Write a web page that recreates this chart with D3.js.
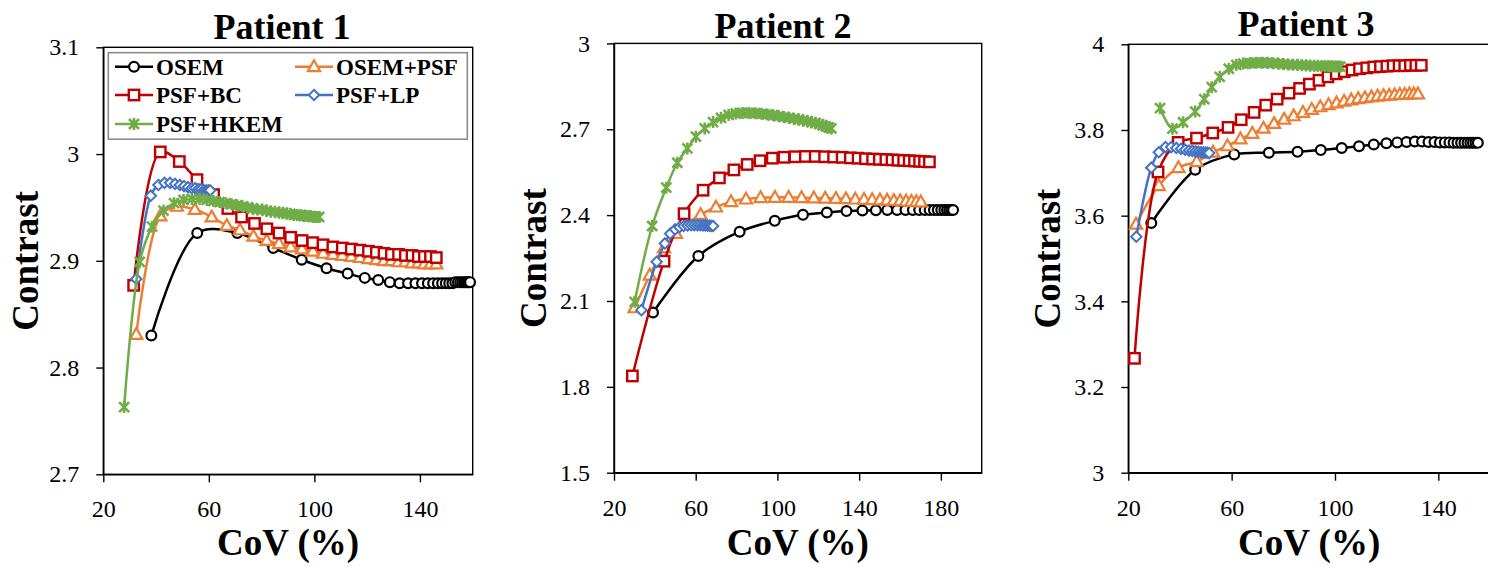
<!DOCTYPE html>
<html>
<head>
<meta charset="utf-8">
<script src="https://cdn.jsdelivr.net/npm/d3@7"></script>
<style>
  body { margin: 0; background: #fff; }
  svg { display: block; font-family: "Liberation Serif", "Times New Roman", serif; }
</style>
</head>
<body>
<svg id="chart" width="1488" height="567"></svg>
<script>
// series info
const seriesNames = ['OSEM', 'OSEM+PSF', 'PSF+BC', 'PSF+LP', 'PSF+HKEM'];
const seriesColors = ['#000000', '#ED7D31', '#C00000', '#4472C4', '#70AD47'];
const seriesMarkers = ['circle', 'triangle', 'square', 'diamond', 'star'];

// panels
const panelTitles = ['Patient 1', 'Patient 2', 'Patient 3'];
const xDomains = [[20, 160], [20, 200], [20, 160]];
const yDomains = [[2.7, 3.1], [1.5, 3], [3, 4]];
const xTicks = [[20, 60, 100, 140], [20, 60, 100, 140, 180], [20, 60, 100, 140]];
const yTicks = [[2.7, 2.8, 2.9, 3, 3.1], [1.5, 1.8, 2.1, 2.4, 2.7, 3], [3, 3.2, 3.4, 3.6, 3.8, 4]];

// ---- Patient 1 (CoV %, contrast) ----
const p1OsemCov = [38.2, 55.6, 70.8, 84.4, 95.2, 104.6, 112.6, 119.1, 124.2, 128.6, 132.3, 135.5, 138.3, 140.8, 143.0, 145.0, 146.8, 148.4, 149.8, 151.1, 152.3, 153.4, 154.4, 155.3, 156.1, 156.8, 157.4, 158.0, 158.5, 159.0];
const p1OsemCon = [2.830, 2.926, 2.926, 2.912, 2.901, 2.893, 2.888, 2.884, 2.882, 2.880, 2.879, 2.879, 2.879, 2.879, 2.879, 2.879, 2.879, 2.879, 2.879, 2.879, 2.879, 2.880, 2.880, 2.880, 2.880, 2.880, 2.880, 2.880, 2.880, 2.880];
const p1OsemPsfCov = [32.5, 41.6, 47.9, 54.7, 61.1, 66.8, 71.8, 76.9, 81.9, 86.6, 91.0, 95.3, 99.4, 103.3, 107.0, 110.6, 114.0, 117.3, 120.5, 123.5, 126.4, 129.2, 131.9, 134.5, 137.0, 139.4, 141.7, 144.0, 146.2];
const p1OsemPsfCon = [2.831, 2.942, 2.951, 2.948, 2.941, 2.933, 2.929, 2.923, 2.919, 2.916, 2.913, 2.911, 2.909, 2.907, 2.906, 2.905, 2.904, 2.903, 2.902, 2.901, 2.900, 2.900, 2.899, 2.899, 2.898, 2.898, 2.897, 2.897, 2.897];
const p1BcCov = [31.5, 41.6, 48.8, 55.5, 61.8, 67.2, 72.4, 77.3, 82.0, 86.6, 91.0, 95.3, 99.4, 103.3, 107.0, 110.6, 114.0, 117.3, 120.5, 123.5, 126.4, 129.2, 131.9, 134.5, 137.0, 139.4, 141.7, 144.0, 146.2];
const p1BcCon = [2.877, 3.002, 2.993, 2.976, 2.962, 2.949, 2.941, 2.935, 2.930, 2.926, 2.922, 2.919, 2.917, 2.915, 2.913, 2.912, 2.911, 2.910, 2.909, 2.908, 2.907, 2.906, 2.906, 2.905, 2.905, 2.904, 2.904, 2.904, 2.903];
const p1LpCov = [32.5, 38.0, 40.9, 43.2, 45.3, 47.2, 49.0, 50.6, 52.1, 53.5, 54.8, 56.0, 57.1, 58.1, 59.0, 59.8, 60.5];
const p1LpCon = [2.883, 2.961, 2.971, 2.973, 2.973, 2.972, 2.971, 2.970, 2.969, 2.968, 2.968, 2.967, 2.967, 2.966, 2.966, 2.966, 2.966];
const p1HkemCov = [27.9, 33.8, 38.5, 42.8, 46.8, 50.4, 53.6, 56.5, 59.2, 61.7, 64.1, 66.4, 68.6, 70.7, 72.7, 74.7, 76.6, 78.4, 80.2, 81.9, 83.5, 85.1, 86.6, 88.1, 89.5, 90.9, 92.2, 93.5, 94.8, 96.0, 97.2, 98.4, 99.5, 100.6, 101.8];
const p1HkemCon = [2.763, 2.899, 2.932, 2.947, 2.954, 2.957, 2.958, 2.958, 2.957, 2.956, 2.955, 2.954, 2.953, 2.952, 2.951, 2.950, 2.949, 2.948, 2.948, 2.947, 2.946, 2.946, 2.945, 2.945, 2.944, 2.944, 2.943, 2.943, 2.943, 2.942, 2.942, 2.942, 2.941, 2.941, 2.941];

// ---- Patient 2 ----
const p2OsemCov = [39.1, 61.3, 81.5, 98.7, 112.5, 124.2, 133.8, 141.6, 148.2, 153.8, 158.6, 162.7, 166.3, 169.4, 172.1, 174.5, 176.6, 178.5, 180.2, 181.7, 183.0, 184.1, 185.1, 186.0];
const p2OsemCon = [2.060, 2.257, 2.342, 2.380, 2.401, 2.409, 2.414, 2.416, 2.417, 2.418, 2.418, 2.418, 2.418, 2.418, 2.418, 2.418, 2.418, 2.418, 2.418, 2.418, 2.418, 2.418, 2.418, 2.418];
const p2OsemPsfCov = [30.1, 37.5, 44.5, 50.3, 55.8, 62.4, 69.9, 77.3, 84.6, 91.8, 98.8, 105.5, 111.8, 117.8, 123.4, 128.6, 133.5, 138.1, 142.4, 146.4, 150.2, 153.7, 157.0, 160.1, 163.0, 165.6, 168.0, 170.2];
const p2OsemPsfCon = [2.076, 2.190, 2.285, 2.336, 2.370, 2.402, 2.428, 2.447, 2.456, 2.461, 2.462, 2.462, 2.461, 2.460, 2.459, 2.458, 2.457, 2.456, 2.455, 2.454, 2.453, 2.452, 2.451, 2.450, 2.449, 2.448, 2.447, 2.446];
const p2BcCov = [29.0, 44.5, 54.3, 63.6, 71.6, 78.7, 85.2, 91.5, 97.5, 103.2, 108.6, 113.7, 118.5, 123.1, 127.5, 131.7, 135.7, 139.5, 143.1, 146.6, 149.9, 153.1, 156.1, 159.0, 161.8, 164.5, 167.1, 169.6, 172.0, 174.4];
const p2BcCon = [1.838, 2.239, 2.405, 2.487, 2.530, 2.558, 2.577, 2.590, 2.599, 2.602, 2.604, 2.605, 2.605, 2.604, 2.603, 2.602, 2.600, 2.599, 2.597, 2.596, 2.595, 2.594, 2.593, 2.592, 2.591, 2.590, 2.589, 2.588, 2.587, 2.586];
const p2LpCov = [33.4, 40.9, 44.9, 47.5, 49.9, 52.1, 54.1, 56.0, 57.7, 59.3, 60.8, 62.2, 63.5, 64.7, 65.8, 66.8, 67.7, 68.5];
const p2LpCon = [2.068, 2.237, 2.301, 2.335, 2.350, 2.358, 2.362, 2.364, 2.365, 2.365, 2.365, 2.365, 2.364, 2.364, 2.363, 2.363, 2.362, 2.362];
const p2HkemCov = [30.1, 38.7, 45.6, 51.0, 55.9, 60.1, 64.4, 68.5, 72.4, 76.1, 79.6, 82.9, 86.1, 89.2, 92.2, 95.1, 97.9, 100.6, 103.2, 105.7, 108.1, 110.4, 112.6, 114.7, 116.7, 118.6, 120.4, 122.1, 123.7, 125.1, 126.4];
const p2HkemCon = [2.097, 2.362, 2.496, 2.583, 2.633, 2.674, 2.703, 2.725, 2.740, 2.750, 2.755, 2.757, 2.757, 2.756, 2.754, 2.752, 2.749, 2.746, 2.743, 2.740, 2.737, 2.734, 2.731, 2.728, 2.725, 2.722, 2.718, 2.714, 2.710, 2.706, 2.703];

// ---- Patient 3 ----
const p3OsemCov = [28.9, 45.9, 61.0, 74.4, 85.5, 94.5, 102.6, 109.3, 115.0, 119.9, 124.1, 127.7, 130.9, 133.7, 136.2, 138.5, 140.6, 142.5, 144.3, 145.9, 147.4, 148.8, 150.1, 151.3, 152.4, 153.4, 154.4, 155.3];
const p3OsemCon = [3.583, 3.707, 3.743, 3.747, 3.749, 3.753, 3.758, 3.762, 3.766, 3.769, 3.771, 3.772, 3.773, 3.773, 3.772, 3.772, 3.771, 3.771, 3.771, 3.770, 3.770, 3.770, 3.770, 3.770, 3.770, 3.770, 3.770, 3.770];
const p3OsemPsfCov = [23.0, 31.8, 39.4, 46.5, 52.8, 58.4, 63.4, 68.0, 72.3, 76.4, 80.3, 84.0, 87.6, 91.0, 94.3, 97.5, 100.6, 103.5, 106.3, 109.0, 111.6, 114.1, 116.5, 118.8, 121.0, 123.1, 125.1, 127.0, 128.8, 130.5, 132.1];
const p3OsemPsfCon = [3.580, 3.670, 3.712, 3.726, 3.748, 3.763, 3.779, 3.792, 3.804, 3.815, 3.825, 3.833, 3.841, 3.848, 3.854, 3.859, 3.863, 3.867, 3.870, 3.873, 3.875, 3.877, 3.879, 3.880, 3.881, 3.882, 3.883, 3.883, 3.884, 3.884, 3.884];
const p3BcCov = [22.4, 31.5, 39.3, 46.4, 52.7, 58.6, 63.7, 68.7, 73.2, 77.6, 82.2, 86.3, 90.1, 93.8, 97.3, 100.5, 103.6, 106.6, 109.5, 112.3, 115.0, 117.6, 120.1, 122.5, 124.8, 127.0, 129.2, 131.3, 133.4];
const p3BcCon = [3.267, 3.702, 3.771, 3.781, 3.793, 3.806, 3.824, 3.841, 3.858, 3.872, 3.886, 3.897, 3.907, 3.916, 3.924, 3.931, 3.936, 3.940, 3.943, 3.945, 3.947, 3.948, 3.949, 3.950, 3.950, 3.950, 3.951, 3.951, 3.951];
const p3LpCov = [23.1, 28.9, 31.8, 34.4, 36.6, 38.6, 40.4, 42.0, 43.5, 44.8, 46.0, 47.1, 48.1, 49.0, 49.8, 50.6, 51.3];
const p3LpCon = [3.551, 3.712, 3.748, 3.760, 3.760, 3.758, 3.756, 3.754, 3.752, 3.751, 3.750, 3.749, 3.748, 3.748, 3.747, 3.747, 3.746];
const p3HkemCov = [32.3, 37.1, 41.2, 45.9, 49.4, 52.3, 55.4, 58.9, 61.8, 64.5, 67.0, 69.4, 71.7, 73.9, 76.0, 78.0, 80.0, 81.9, 83.7, 85.5, 87.2, 88.8, 90.4, 91.9, 93.4, 94.8, 96.2, 97.5, 98.8, 100.0, 101.2, 102.0];
const p3HkemCon = [3.851, 3.803, 3.818, 3.843, 3.872, 3.900, 3.924, 3.943, 3.952, 3.955, 3.956, 3.957, 3.957, 3.957, 3.956, 3.955, 3.954, 3.953, 3.952, 3.952, 3.951, 3.951, 3.950, 3.950, 3.950, 3.949, 3.949, 3.949, 3.949, 3.948, 3.948, 3.948];

const panelData = [
  [[p1OsemCov, p1OsemCon], [p1OsemPsfCov, p1OsemPsfCon], [p1BcCov, p1BcCon], [p1LpCov, p1LpCon], [p1HkemCov, p1HkemCon]],
  [[p2OsemCov, p2OsemCon], [p2OsemPsfCov, p2OsemPsfCon], [p2BcCov, p2BcCon], [p2LpCov, p2LpCon], [p2HkemCov, p2HkemCon]],
  [[p3OsemCov, p3OsemCon], [p3OsemPsfCov, p3OsemPsfCon], [p3BcCov, p3BcCon], [p3LpCov, p3LpCon], [p3HkemCov, p3HkemCon]]
];

// pixel layout of each panel
const layout = [
  {left: 103.3, right: 472.7, top: 47.3, bottom: 474.3, titleX: 282, titleY: 39, yLabelX: 38},
  {left: 614, right: 981.7, top: 43.4, bottom: 472.7, titleX: 783, titleY: 38, yLabelX: 546},
  {left: 1128.3, right: 1490, top: 44.3, bottom: 472.7, titleX: 1306, titleY: 36, yLabelX: 1060}
];

const svg = d3.select('#chart');

// draw one marker (white fill, coloured outline)
function marker(g, type, x, y, color) {
  const m = g.append('g').attr('transform', `translate(${x},${y})`)
    .attr('fill', '#fff').attr('stroke', color);
  if (type === 'circle') {
    m.append('circle').attr('r', 4.9).attr('stroke-width', 2.2);
  } else if (type === 'square') {
    m.append('rect').attr('x', -5.2).attr('y', -5.2).attr('width', 10.4).attr('height', 10.4).attr('stroke-width', 2.4);
  } else if (type === 'triangle') {
    m.append('path').attr('d', 'M0,-6.4L6.1,4.4L-6.1,4.4Z').attr('stroke-width', 2.2);
  } else if (type === 'diamond') {
    m.append('path').attr('d', 'M0,-5.2L5.2,0L0,5.2L-5.2,0Z').attr('stroke-width', 2);
  } else if (type === 'star') {
    m.append('path').attr('d', 'M0,-6L0,6M-5,-5L5,5M-5,5L5,-5')
      .attr('fill', 'none').attr('stroke-width', 2.6);
  }
}

panelTitles.forEach((title, p) => {
  const L = layout[p];
  const x = d3.scaleLinear().domain(xDomains[p]).range([L.left, L.right]);
  const y = d3.scaleLinear().domain(yDomains[p]).range([L.bottom, L.top]);
  const g = svg.append('g');

  // frame
  g.append('rect')
    .attr('x', L.left).attr('y', L.top)
    .attr('width', L.right - L.left).attr('height', L.bottom - L.top)
    .attr('fill', 'none').attr('stroke', '#000').attr('stroke-width', 1.4);

  // axes
  const yAxis = g.append('g')
    .attr('transform', `translate(${L.left},0)`)
    .call(d3.axisLeft(y).tickValues(yTicks[p]).tickSize(7).tickSizeOuter(0).tickPadding(17).tickFormat(d => String(d)));
  const xAxis = g.append('g')
    .attr('transform', `translate(0,${L.bottom})`)
    .call(d3.axisBottom(x).tickValues(xTicks[p]).tickSize(8).tickSizeOuter(0).tickPadding(18).tickFormat(d => String(d)));
  [xAxis, yAxis].forEach(a => {
    a.select('.domain').attr('stroke', '#000').attr('stroke-width', 1.4);
    a.selectAll('.tick line').attr('stroke', '#000').attr('stroke-width', 1.4);
    a.selectAll('.tick text').attr('fill', '#000')
      .style('font-family', '"Liberation Serif", serif').style('font-size', '24px');
  });

  // titles
  g.append('text')
    .attr('x', L.titleX).attr('y', L.titleY)
    .attr('text-anchor', 'middle')
    .style('font-size', '36px').style('font-weight', 'bold')
    .text(title);
  g.append('text')
    .attr('x', (L.left + L.right) / 2).attr('y', 555)
    .attr('text-anchor', 'middle')
    .style('font-size', '37px').style('font-weight', 'bold')
    .text('CoV (%)');
  g.append('text')
    .attr('transform', `translate(${L.yLabelX},${(L.top + L.bottom) / 2}) rotate(-90)`)
    .attr('text-anchor', 'middle')
    .style('font-size', '37px').style('font-weight', 'bold')
    .text('Contrast');

  // series
  const line = d3.line().x(d => x(d[0])).y(d => y(d[1])).curve(d3.curveCatmullRom.alpha(0.5));
  panelData[p].forEach((s, i) => {
    const pts = d3.zip(s[0], s[1]);
    const sg = g.append('g');
    sg.append('path')
      .attr('d', line(pts))
      .attr('fill', 'none')
      .attr('stroke', seriesColors[i])
      .attr('stroke-width', 2.5);
    pts.forEach(d => marker(sg, seriesMarkers[i], x(d[0]), y(d[1]), seriesColors[i]));
  });
});

// legend in panel 1
const lg = svg.append('g');
lg.append('rect')
  .attr('x', 108.3).attr('y', 52.7).attr('width', 359).attr('height', 86.5)
  .attr('fill', '#fff').attr('stroke', '#8c8c8c').attr('stroke-width', 1.6);
const legendPos = [[115, 66.7], [295, 66.7], [115, 95], [295, 95], [115, 124]];
seriesNames.forEach((name, i) => {
  const [lx, ly] = legendPos[i];
  lg.append('line')
    .attr('x1', lx).attr('x2', lx + 38).attr('y1', ly).attr('y2', ly)
    .attr('stroke', seriesColors[i]).attr('stroke-width', 2.5);
  marker(lg, seriesMarkers[i], lx + 19, ly, seriesColors[i]);
  lg.append('text')
    .attr('x', lx + 41).attr('y', ly + 8)
    .style('font-size', '23px').style('font-weight', 'bold')
    .text(name);
});
</script>
</body>
</html>
